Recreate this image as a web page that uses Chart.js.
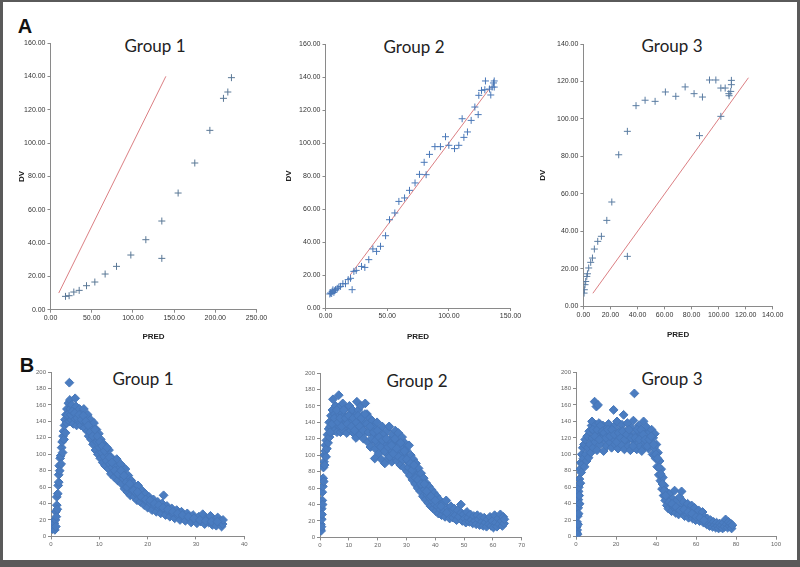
<!DOCTYPE html>
<html>
<head>
<meta charset="utf-8">
<script src="https://cdn.jsdelivr.net/npm/chart.js@4/dist/chart.umd.min.js"></script>
<style>
  html,body{margin:0;padding:0;background:#fff;}
  #page{position:relative;width:800px;height:567px;overflow:hidden;background:#fff;}
  #frame{position:absolute;left:0;top:0;width:800px;height:567px;box-sizing:border-box;border-style:solid;border-color:#5a5a5a;border-width:2px 3px 7px 3px;pointer-events:none;}
  canvas{position:absolute;}
  .ttl{position:absolute;font-family:Lato,"Open Sans",sans-serif;font-size:17px;color:#222;transform:translate(-50%,-50%);white-space:nowrap;line-height:1;}
  .lab{position:absolute;font-family:"Liberation Sans",Arial,sans-serif;font-weight:bold;font-size:20px;color:#111;transform:translate(-50%,-50%);line-height:1;}
</style>
</head>
<body>
<div id="page">
  <div class="lab" style="left:25px;top:26px;">A</div>
  <div class="lab" style="left:27px;top:365px;">B</div>
  <div class="ttl" style="left:155px;top:45px;">Group 1</div>
  <div class="ttl" style="left:414px;top:46px;">Group 2</div>
  <div class="ttl" style="left:672px;top:45px;">Group 3</div>
  <div class="ttl" style="left:143px;top:378px;">Group 1</div>
  <div class="ttl" style="left:417px;top:380px;">Group 2</div>
  <div class="ttl" style="left:672px;top:378px;">Group 3</div>
  <div id="frame"></div>
</div>
<script>
// ---------- Panel A data (PRED vs DV) ----------
const predA1 = [18.2,22.6,28.3,34.8,43.7,53.8,66.3,80.1,97.5,115.7,135.1,135.1,154.9,175.1,193.4,209.9,215.2,219.6];
const dvA1   = [8.0,8.4,10.6,11.6,14.4,16.6,21.4,26.0,32.8,42.0,53.2,30.8,70.0,88.0,107.6,126.8,130.6,139.2];
const idLineA1 = [10,140];

const predA2 = [3.5,5.0,6.0,7.5,4.1,5.4,6.8,8.1,9.5,10.8,12.2,14.1,16.2,18.4,20.3,21.6,23.0,24.9,29.2,31.9,35.1,38.4,41.4,44.6,48.7,51.9,56.2,59.5,64.1,68.1,72.6,76.2,80.0,81.6,84.3,88.7,93.2,97.3,100.0,104.6,108.1,110.8,112.2,115.1,118.1,121.1,123.8,124.3,126.5,129.2,129.7,133.0,134.0,135.1,136.2,136.8,136.8];
const dvA2   = [8.5,8.8,11.0,10.5,9.1,10.1,9.5,11.1,11.9,12.7,13.1,14.7,14.7,17.2,18.0,11.1,22.2,22.8,25.2,24.6,29.3,35.8,34.3,37.4,43.8,53.5,57.6,64.6,66.7,71.3,75.8,81.0,88.3,80.8,93.1,97.8,97.8,103.8,98.6,96.6,98.6,114.7,103.4,106.7,113.7,121.8,117.2,128.9,131.9,132.3,137.6,132.7,129.1,133.9,136.4,137.6,133.9];
const idLineA2 = [20,134];

const predA3 = [0.5,0.7,1.2,1.7,2.5,3.0,3.9,5.4,6.7,8.1,10.6,13.3,17.3,21.0,26.1,32.5,32.5,38.9,45.6,53.0,60.6,68.3,75.2,81.8,85.8,88.0,93.2,97.9,101.6,101.6,104.8,107.5,107.7,108.9,109.4,109.4];
const dvA3   = [7.1,8.9,11.6,13.3,16.0,17.4,20.5,23.5,25.8,30.6,34.7,37.4,45.9,55.7,80.9,93.4,26.7,107.1,110.0,109.4,114.4,112.1,117.1,113.5,91.1,111.7,120.8,120.8,116.5,101.4,116.5,113.5,112.4,114.7,120.6,118.3];
const idLineA3 = [7,122];

// ---------- Panel B data (time, concentration) ----------
const concB1 = [[0.2,14],[0.3,9],[0.4,18],[0.5,12],[0.7,16],[0.8,8],[0.9,20],[1.0,12],[1.0,30],[1.1,24],[1.2,38],[1.2,48],[1.3,33],[1.4,52],[1.5,62],[1.6,75],[1.6,66],[1.7,86],[1.8,80],[1.9,95],[2.0,98],[2.1,88],[2.2,108],[2.3,115],[2.4,102],[2.5,122],[2.6,128],[2.7,118],[2.8,135],[2.9,142],[3.0,126],[3.1,148],[3.2,138],[3.3,155],[3.5,145],[3.6,162],[3.7,150],[3.8,187],[3.8,140],[3.9,166],[4.0,155],[4.2,142],[4.3,160],[4.5,148],[4.6,137],[4.8,155],[5.0,168],[5.0,143],[5.2,158],[5.3,135],[5.5,150],[5.7,140],[5.9,155],[6.1,145],[6.2,135],[6.4,150],[6.6,140],[6.8,155],[6.9,132],[7.1,146],[7.3,138],[7.5,128],[7.6,148],[7.8,122],[8.0,135],[8.2,142],[8.3,118],[8.5,130],[8.7,112],[8.9,138],[9.0,122],[9.2,105],[9.4,130],[9.5,115],[9.7,100],[9.9,125],[10.0,108],[10.2,95],[10.3,118],[10.5,102],[10.7,90],[10.8,113],[11.0,97],[11.2,86],[11.3,108],[11.5,92],[11.7,100],[11.9,82],[12.0,105],[12.2,88],[12.4,76],[12.5,96],[12.7,84],[12.9,92],[13.1,72],[13.3,86],[13.5,78],[13.6,94],[13.8,68],[14.0,82],[14.2,74],[14.4,88],[14.6,64],[14.8,78],[15.0,70],[15.2,58],[15.4,82],[15.6,66],[15.8,54],[16.0,74],[16.2,60],[16.4,50],[16.6,68],[16.8,56],[17.0,64],[17.2,48],[17.4,58],[17.6,52],[17.8,44],[18.0,62],[18.3,50],[18.5,42],[18.8,56],[19.0,46],[19.3,38],[19.5,52],[19.8,42],[20.0,35],[20.3,48],[20.6,40],[20.9,32],[21.2,45],[21.5,37],[21.8,30],[22.1,42],[22.4,34],[22.7,28],[23.0,40],[23.3,50],[23.4,32],[23.7,26],[24.0,37],[24.3,30],[24.6,24],[25.0,34],[25.3,27],[25.6,22],[26.0,32],[26.3,25],[26.7,20],[27.0,30],[27.4,23],[27.8,19],[28.2,28],[28.6,22],[29.0,17],[29.4,26],[29.8,20],[30.2,16],[30.6,24],[31.0,18],[31.4,27],[31.8,15],[32.2,22],[32.6,17],[33.0,25],[33.4,14],[33.8,20],[34.2,13],[34.5,23],[34.8,16],[35.1,19],[35.3,12],[35.5,15],[35.6,20],
  [3.4,148],[4.1,148],[4.4,152],[4.9,150],[5.4,144],[5.8,148],[6.3,142],[6.7,147],[7.2,140],[7.7,135],[8.1,127],[8.6,122],[9.1,130],[9.6,122],[10.1,115],[10.6,110],[11.1,104],[11.6,108],[12.1,96],[12.6,90],[13.2,80],[13.9,76],[14.5,80],[15.1,74],[15.7,60],[16.3,64],[17.1,56],[17.9,54],[18.7,48],[19.6,45],[20.5,44],[21.4,40],[22.3,38],[23.2,35],[24.2,33],[25.2,30],[26.2,28],[27.2,26],[28.4,24],[29.6,22],[30.8,20],[32.0,19],[33.2,18],[34.4,18]];

const concB2 = [[0.2,10],[0.3,16],[0.4,8],[0.5,13],[0.6,22],[0.6,35],[0.7,28],[0.8,45],[0.8,55],[0.9,40],[1.0,62],[1.1,72],[1.2,85],[1.3,68],[1.4,92],[1.5,100],[1.6,88],[1.8,105],[1.9,112],[2.1,98],[2.2,118],[2.4,108],[2.6,125],[2.8,115],[3.0,132],[3.2,140],[3.3,122],[3.6,135],[3.8,148],[4.0,128],[4.3,155],[4.5,168],[4.6,140],[4.9,130],[5.1,150],[5.4,160],[5.6,138],[5.9,128],[6.1,148],[6.5,173],[6.6,158],[6.8,135],[7.1,128],[7.3,152],[7.6,142],[7.9,163],[8.1,130],[8.4,148],[8.7,138],[9.0,157],[9.3,127],[9.6,145],[9.9,135],[10.2,160],[10.5,150],[10.7,130],[11.0,142],[11.3,155],[11.6,127],[11.9,137],[12.2,148],[12.5,121],[12.8,165],[13.0,132],[13.3,155],[13.6,143],[13.9,125],[14.2,160],[14.5,135],[14.8,148],[15.1,120],[15.4,140],[15.7,163],[16.0,128],[16.3,150],[16.6,116],[16.9,138],[17.2,145],[17.5,110],[17.8,128],[18.1,142],[18.4,118],[18.7,135],[19.0,96],[19.2,108],[19.5,125],[19.8,140],[20.1,113],[20.4,102],[20.7,130],[21.0,120],[21.3,95],[21.6,135],[21.9,108],[22.2,125],[22.5,90],[22.8,115],[23.1,102],[23.4,130],[23.7,96],[24.0,135],[24.3,118],[24.6,106],[24.9,92],[25.2,125],[25.5,112],[25.8,98],[26.1,130],[26.4,118],[26.7,93],[27.0,105],[27.2,127],[27.6,115],[27.9,88],[28.2,100],[28.5,122],[28.8,110],[29.1,85],[29.4,115],[29.7,98],[30.0,106],[30.3,80],[30.6,92],[30.9,112],[31.2,75],[31.5,100],[31.8,86],[32.1,70],[32.4,95],[32.7,80],[33.0,65],[33.3,90],[33.6,75],[33.9,60],[34.2,84],[34.5,68],[34.8,56],[35.1,78],[35.4,62],[35.7,50],[36.0,72],[36.3,58],[36.6,46],[36.9,66],[37.2,52],[37.5,42],[37.8,62],[38.1,48],[38.4,38],[38.7,58],[39.0,44],[39.3,35],[39.6,54],[39.9,40],[40.2,32],[40.5,50],[40.8,38],[41.1,29],[41.4,46],[41.8,34],[42.2,27],[42.6,42],[43.0,32],[43.4,25],[43.8,45],[44.2,36],[44.6,28],[45.0,23],[45.4,38],[45.8,30],[46.2,24],[46.6,35],[47.0,27],[47.4,21],[47.8,33],[48.2,25],[48.9,40],[49.0,30],[49.4,20],[49.8,28],[50.2,23],[50.6,18],[51.0,31],[51.4,24],[51.8,19],[52.2,28],[52.6,21],[53.0,17],[53.4,26],[53.8,20],[54.2,16],[54.6,27],[55.0,22],[55.4,15],[55.8,25],[56.2,19],[56.6,14],[57.0,24],[57.4,18],[57.8,13],[58.2,22],[58.6,16],[59.0,25],[59.4,14],[59.8,20],[60.2,12],[60.6,27],[61.0,18],[61.4,13],[61.8,23],[62.2,16],[62.6,28],[63.0,20],[63.3,14],[63.6,25],[63.9,17],[64.0,22],
  [3.5,128],[4.2,138],[5.0,145],[5.8,155],[6.3,140],[7.0,145],[7.5,135],[8.2,155],[8.9,145],[9.5,138],[10.0,148],[10.9,135],[11.5,145],[12.0,130],[12.6,140],[13.2,148],[13.8,135],[14.4,145],[15.0,130],[15.6,150],[16.2,138],[16.8,128],[17.4,135],[18.0,120],[18.6,128],[19.3,118],[19.9,130],[20.5,122],[21.1,110],[21.7,118],[22.4,105],[23.0,120],[23.6,110],[24.2,98],[24.8,112],[25.4,102],[26.0,120],[26.6,108],[27.3,98],[28.0,115],[28.6,95],[29.3,105],[30.1,95],[30.8,85],[31.4,90],[32.0,82],[32.6,88],[33.2,72],[34.0,70],[35.0,65],[36.2,65],[37.0,56],[38.5,50],[40.0,45],[42.0,38],[44.0,30]];

const concB3 = [[0.3,5],[0.4,12],[0.5,18],[0.6,8],[0.8,3],[0.9,25],[1.0,15],[1.1,35],[1.2,45],[1.3,55],[1.3,28],[1.4,60],[1.6,50],[1.7,70],[1.8,40],[2.0,82],[2.2,65],[2.4,90],[2.6,78],[2.9,100],[3.1,88],[3.4,108],[3.7,95],[4.0,112],[4.3,85],[4.6,118],[4.9,100],[5.3,92],[5.6,122],[5.9,108],[6.3,96],[6.6,128],[7.0,112],[7.4,102],[7.8,135],[8.0,140],[8.2,120],[8.6,108],[9.0,128],[9.3,164],[9.6,115],[10.0,136],[10.2,158],[10.5,105],[11.0,160],[11.0,125],[11.5,138],[12.0,112],[12.5,128],[13.0,120],[13.5,135],[13.8,104],[14.2,118],[14.8,130],[15.3,110],[15.8,125],[16.3,137],[16.8,115],[17.3,128],[17.8,108],[18.3,120],[18.8,154],[19.0,134],[19.5,112],[20.0,125],[20.5,140],[21.0,107],[21.5,118],[22.0,130],[22.5,112],[23.0,136],[23.5,122],[23.8,148],[24.2,106],[24.7,128],[25.2,116],[25.7,138],[26.2,110],[26.7,124],[27.2,105],[27.7,132],[28.2,118],[28.7,141],[29.2,174],[29.4,112],[29.9,126],[30.4,106],[30.9,120],[31.4,135],[31.9,110],[32.4,125],[32.9,104],[33.4,117],[33.8,140],[34.3,128],[34.8,110],[35.3,133],[35.8,120],[36.3,107],[36.8,127],[37.3,114],[37.8,130],[38.3,100],[38.6,120],[39.0,108],[39.4,125],[39.8,95],[40.2,112],[40.6,85],[41.0,102],[41.4,75],[41.8,92],[42.2,68],[42.6,82],[43.0,58],[43.4,72],[43.8,50],[44.2,62],[44.6,44],[45.0,55],[45.4,38],[45.8,48],[46.2,34],[46.8,52],[47.2,42],[47.8,31],[48.3,46],[48.8,36],[49.3,56],[49.8,29],[50.3,44],[50.8,34],[51.3,27],[51.8,48],[52.3,38],[52.8,55],[53.3,30],[53.8,42],[54.3,25],[54.8,36],[55.3,28],[55.8,40],[56.3,23],[56.8,33],[57.3,26],[57.8,38],[58.3,22],[58.8,30],[59.3,35],[59.8,20],[60.3,28],[60.8,24],[61.3,32],[61.8,19],[62.3,26],[62.8,21],[63.3,30],[63.8,17],[64.3,24],[64.8,20],[65.3,15],[65.8,22],[66.3,17],[66.8,13],[67.3,20],[67.8,15],[68.3,12],[68.8,18],[69.3,14],[69.8,11],[70.3,17],[70.8,13],[71.3,10],[71.8,16],[72.3,12],[72.8,14],[73.3,10],[73.8,17],[74.3,12],[74.8,21],[75.3,15],[75.8,11],[76.3,18],[76.8,13],[77.3,16],[77.8,10],[78.2,14],
  [8.4,130],[9.4,122],[10.6,130],[11.6,118],[12.3,135],[13.2,128],[14.0,126],[15.0,120],[16.0,130],[17.0,122],[18.0,130],[19.2,124],[20.3,115],[21.3,126],[22.3,120],[23.3,128],[24.4,118],[25.4,124],[26.5,130],[27.5,120],[28.5,110],[29.6,120],[30.6,130],[31.6,118],[32.6,130],[33.6,124],[34.6,118],[35.6,110],[36.6,118],[37.6,122],[38.8,112],[40.0,100],[40.8,95],[41.6,84],[42.4,76],[43.2,64],[44.0,56],[44.8,50],[46.5,42],[48.0,40],[50.0,36],[52.0,32],[54.0,33],[56.0,30],[58.0,28],[60.0,24],[62.0,23],[64.0,20]];

// ---------- helpers ----------
Chart.defaults.animation = false;
const page = document.getElementById('page');
const frame = document.getElementById('frame');
const AXIS = '#8a8a8a';
const NARROW = '"Liberation Sans Narrow","Arial Narrow","Liberation Sans",sans-serif';

function panel(o){
  const M = 16;
  const left = o.plot.l - o.yW - M, top = o.plot.t - M;
  const w = (o.plot.r - o.plot.l) + o.yW + 2*M;
  const h = (o.plot.b - o.plot.t) + o.xH + 2*M;
  const c = document.createElement('canvas');
  c.width = Math.round(w); c.height = Math.round(h);
  c.style.left = left + 'px'; c.style.top = top + 'px';
  page.insertBefore(c, frame);
  const tickFont = {family: NARROW, size: o.tickSize};
  const titleFont = {family: '"Liberation Sans",Arial,sans-serif', size: 8, weight: 'bold'};
  new Chart(c.getContext('2d'), {
    type: 'scatter',
    data: {datasets: o.datasets},
    options: {
      responsive: false, animation: false, devicePixelRatio: 1,
      layout: {padding: {left: M, top: M, right: M + (c.width - w), bottom: M + (c.height - h)}},
      plugins: {legend: {display: false}, tooltip: {enabled: false}},
      scales: {
        x: {
          type: 'linear', min: o.x[0], max: o.x[1],
          afterFit: s => { s.height = o.xH; },
          ticks: {stepSize: o.x[2], autoSkip: false, maxRotation: 0, font: tickFont, color: o.tickColor, padding: 1,
                  callback: v => o.fmt(v)},
          grid: {display: true, drawOnChartArea: false, drawTicks: true, tickLength: 3, color: AXIS},
          border: {display: true, color: AXIS, width: 1},
          title: {display: !!o.xTitle, text: o.xTitle || '', font: titleFont, color: '#222', padding: 0}
        },
        y: {
          type: 'linear', min: o.y[0], max: o.y[1],
          afterFit: s => { s.width = o.yW; },
          ticks: {stepSize: o.y[2], autoSkip: false, font: tickFont, color: o.tickColor, padding: 2,
                  callback: v => o.fmt(v)},
          grid: {display: true, drawOnChartArea: false, drawTicks: true, tickLength: 3, color: AXIS},
          border: {display: true, color: AXIS, width: 1},
          title: {display: !!o.yTitle, text: o.yTitle || '', font: titleFont, color: '#222', padding: 0}
        }
      }
    }
  });
}

function crosses(xs, ys, color){
  return {type: 'scatter', data: xs.map((x, i) => ({x: x, y: ys[i]})), pointStyle: 'cross',
          pointRadius: 3.5, pointBorderWidth: 1, borderColor: color, backgroundColor: color, order: 1};
}
function idLine(r){
  return {type: 'line', data: [{x: r[0], y: r[0]}, {x: r[1], y: r[1]}], borderColor: 'rgba(210,95,100,0.8)',
          borderWidth: 1, pointRadius: 0, showLine: true, fill: false, order: 2};
}
function cloud(pts){
  return {type: 'scatter', data: pts.map(p => ({x: p[0], y: p[1]})), pointStyle: 'rectRot',
          pointRadius: 4.4, pointBorderWidth: 1, borderColor: '#4676b8', backgroundColor: '#4a7cc0'};
}
const f2 = v => v.toFixed(2);
const f0 = v => String(Math.round(v));

// ---------- Panels A ----------
panel({plot: {l: 50.7, t: 43.3, r: 256.7, b: 310}, yW: 33.5, xH: 31.5, x: [0, 250, 50], y: [0, 160, 20],
       fmt: f2, tickSize: 7, tickColor: '#333', xTitle: 'PRED', yTitle: 'DV',
       datasets: [idLine(idLineA1), crosses(predA1, dvA1, '#5a7896')]});
panel({plot: {l: 325, t: 44.3, r: 510, b: 308.3}, yW: 41.5, xH: 33.2, x: [0, 150, 50], y: [0, 160, 20],
       fmt: f2, tickSize: 7, tickColor: '#333', xTitle: 'PRED', yTitle: 'DV',
       datasets: [idLine(idLineA2), crosses(predA2, dvA2, '#4a78b8')]});
panel({plot: {l: 583.3, t: 44.3, r: 772.7, b: 306.7}, yW: 45.4, xH: 33.1, x: [0, 140, 20], y: [0, 140, 20],
       fmt: f2, tickSize: 7, tickColor: '#333', xTitle: 'PRED', yTitle: 'DV',
       datasets: [idLine(idLineA3), crosses(predA3, dvA3, '#5a7ca2')]});

// ---------- Panels B ----------
panel({plot: {l: 51, t: 372.3, r: 244.3, b: 536.7}, yW: 26, xH: 14, x: [0, 40, 10], y: [0, 200, 20],
       fmt: f0, tickSize: 6, tickColor: '#666', datasets: [cloud(concB1)]});
panel({plot: {l: 320, t: 373.3, r: 521.7, b: 537.7}, yW: 26, xH: 14, x: [0, 70, 10], y: [0, 200, 20],
       fmt: f0, tickSize: 6, tickColor: '#666', datasets: [cloud(concB2)]});
panel({plot: {l: 575.7, t: 372, r: 775.7, b: 536.7}, yW: 26, xH: 14, x: [0, 100, 20], y: [0, 200, 20],
       fmt: f0, tickSize: 6, tickColor: '#666', datasets: [cloud(concB3)]});
</script>
</body>
</html>
